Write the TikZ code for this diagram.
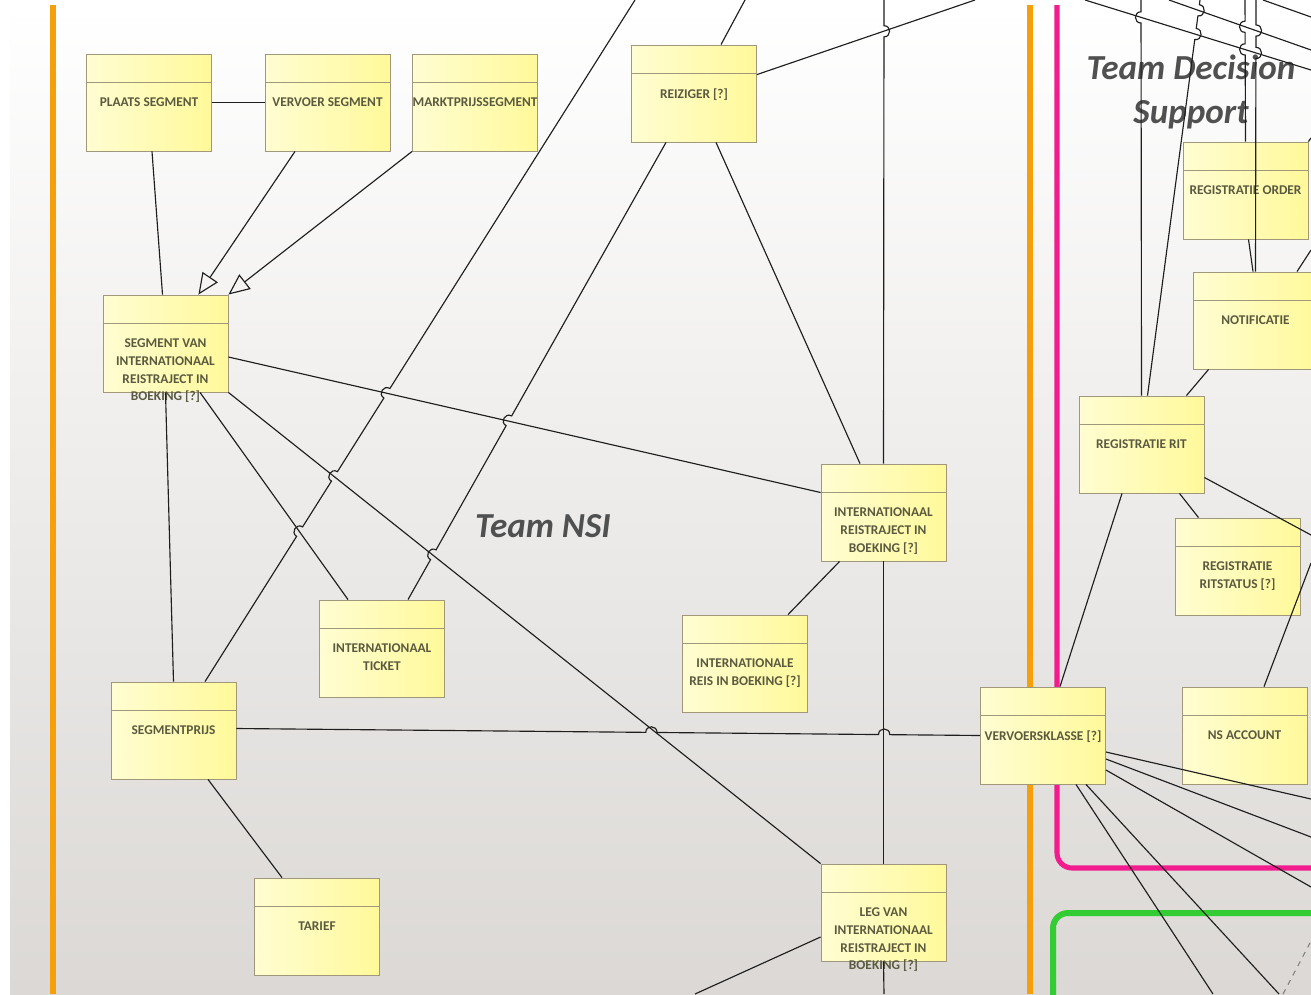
\documentclass[tikz,border=0pt]{standalone}
\usepackage{fontspec}
\setmainfont{Carlito}
\usetikzlibrary{arrows.meta,calc}
\definecolor{ink}{HTML}{1E1E1E}
\definecolor{boxedge}{HTML}{A1977A}
\definecolor{boxL}{HTML}{FFFDD2}
\definecolor{boxR}{HTML}{FFF99A}
\definecolor{boxtext}{HTML}{5A5A40}
\definecolor{bgbot}{HTML}{DBD8D5}
\definecolor{nsiorange}{HTML}{F5A00A}
\definecolor{dspink}{HTML}{F21C8E}
\definecolor{dsgreen}{HTML}{33CC33}
\definecolor{titlegrey}{HTML}{505050}

% line with small jumps where it crosses other lines
\newcommand\hopline[3]{%
  \draw[link] (#1)
    \foreach \t/\s in {#3}{
      -- ($(#1)!\t!(#2)!-3.2pt!(#2)$)
      to[bend left=\s,looseness=1.7] ($(#1)!\t!(#2)!3.2pt!(#2)$)}
    -- (#2);}

\tikzset{
  entity/.style={draw=boxedge,line width=0.5pt,left color=boxL,right color=boxR,
    minimum width=2.5cm,minimum height=1.94cm,inner sep=0pt,
    path picture={\draw[boxedge,line width=0.5pt]
      ([yshift=-0.56cm]path picture bounding box.north west) --
      ([yshift=-0.56cm]path picture bounding box.north east);},
    label={[etext]north:{#1}}},
  etext/.style={anchor=north,yshift=-0.87cm,inner sep=0pt,align=center,
    font=\bfseries\fontsize{7.6}{10.2}\selectfont,text=boxtext},
  title/.style={font=\bfseries\itshape\fontsize{20}{25.5}\selectfont,text=titlegrey,inner sep=0pt},
  link/.style={draw=ink,line width=0.65pt},
  gen/.style={link,-{Triangle[open,length=12pt,width=10.5pt]}}
}

\begin{document}
\begin{tikzpicture}[x=0.02cm,y=-0.02cm]
  \path[use as bounding box,fill=white] (0,0) rectangle (1311,994);
  \clip (0,0) rectangle (1311,994);
  \shade[top color=white,bottom color=bgbot] (10,5) rectangle (1311,994);

  % team areas
  \draw[nsiorange,line width=2.9pt] (53,5) -- (53,994) (1030,5) -- (1030,994);
  \draw[dspink,line width=2.9pt,rounded corners=0.3cm] (1057,5) |- (1320,868);
  \draw[dsgreen,line width=3.4pt,rounded corners=0.3cm] (1053,1000) |- (1320,913);
  \node[title] (nsi) at (543,526) {Team NSI};
  \node[title,align=center] (dss) at (1191,92) {Team Decision\\Support};

  % entities
  \node[entity={PLAATS SEGMENT}] (pla) at (149,102.5) {};
  \node[entity={VERVOER SEGMENT}] (ver) at (327.5,102.5) {};
  \node[entity={MARKTPRIJSSEGMENT}] (mkt) at (475,102.5) {};
  \node[entity={REIZIGER [?]}] (rei) at (694,93.5) {};
  \node[entity={SEGMENT VAN\\INTERNATIONAAL\\REISTRAJECT IN\\BOEKING [?]}] (sv) at (165.5,343.5) {};
  \node[entity={INTERNATIONAAL\\REISTRAJECT IN\\BOEKING [?]}] (irb) at (883.5,512.5) {};
  \node[entity={INTERNATIONAAL\\TICKET}] (tic) at (382,648.5) {};
  \node[entity={INTERNATIONALE\\REIS IN BOEKING [?]}] (reis) at (745,663.5) {};
  \node[entity={SEGMENTPRIJS}] (sp) at (173.5,730.5) {};
  \node[entity={TARIEF}] (tar) at (317,926.5) {};
  \node[entity={LEG VAN\\INTERNATIONAAL\\REISTRAJECT IN\\BOEKING [?]}] (leg) at (883.5,912.5) {};
  \node[entity={VERVOERSKLASSE [?]}] (vk) at (1043,735.5) {};
  \node[entity={REGISTRATIE ORDER}] (ord) at (1245.5,190.5) {};
  \node[entity={NOTIFICATIE}] (notif) at (1255.5,320.5) {};
  \node[entity={REGISTRATIE RIT}] (rit) at (1141.5,444.5) {};
  \node[entity={REGISTRATIE\\RITSTATUS [?]}] (rst) at (1237.5,566.5) {};
  \node[entity={NS ACCOUNT}] (nsa) at (1244.5,735.5) {};

  % free ends at the edge of the view
  \coordinate (e0) at (635,0);
  \coordinate (f0) at (745,0);
  \coordinate (g0) at (975,0);
  \coordinate (i0) at (884,0);
  \coordinate (i1) at (884,994);
  \coordinate (q0) at (695,994);
  \coordinate (t1) at (1141,0);
  \coordinate (t2) at (1200,0);
  \coordinate (y1) at (1256,0);
  \coordinate (y2) at (1245,0);
  \coordinate (o1) at (1311,138);
  \coordinate (z1) at (1311,250);
  \coordinate (v1) at (1311,535);
  \coordinate (aa1) at (1311,563);
  \foreach \n/\ey in {1/799,2/837,3/887} \coordinate (s\n) at (1311,\ey);
  \coordinate (s4) at (1213,994);
  \coordinate (s5) at (1279,994);
  \coordinate (d0) at (1283,994);
  \coordinate (d1) at (1311,941);
  \foreach \n/\xa/\yb in {1/1085/70,2/1169/50,3/1263/17}{
    \coordinate (tr\n a) at (\xa,0);
    \coordinate (tr\n b) at (1311,\yb);
  }

  % generalisations
  \draw[gen] ($(ver.south)+(-32.5,0)$) -- ($(sv.north east)+(-30,0)$);
  \draw[gen] (mkt.south west) -- (sv.north east);

  % associations
  \draw[link] (pla.east) -- (ver.west);
  \draw[link] ($(pla.south)+(3,0)$) -- ($(sv.north)+(-3,0)$);
  \draw[link] (sv.south) -- (sp.north);
  \draw[link] ($(sv.south)+(34.5,0)$) -- ($(tic.north)+(-34,0)$);
  \draw[link] (sv.south east) -- (leg.north west);
  \draw[link] ($(sv.east)+(0,13.5)$) -- ($(irb.west)+(0,-20)$);
  \draw[link] ($(rei.south)+(22,0)$) -- ($(irb.north)+(-23.5,0)$);
  \draw[link] ($(rei.north east)+(0,30)$) -- (g0);
  \draw[link] ($(rei.north)+(27,0)$) -- (f0);
  \draw[link] (irb.south) -- (leg.north);
  \draw[link] (leg.south) -- (i1);
  \draw[link] ($(irb.south west)+(19,0)$) -- ($(reis.north)+(43,0)$);
  \draw[link] ($(leg.west)+(0,24.5)$) -- (q0);
  \draw[link] ($(sp.south)+(34.5,0)$) -- ($(tar.north)+(-35,0)$);
  \draw[link] ($(vk.north)+(17,0)$) -- ($(rit.south)+(-19.5,0)$);
  \foreach \n/\dy in {1/16.5,2/23.5,3/34.5} \draw[link] ($(vk.east)+(0,\dy)$) -- (s\n);
  \draw[link] ($(vk.south)+(33,0)$) -- (s4);
  \draw[link] ($(vk.south)+(43,0)$) -- (s5);
  \draw[gray,dashed,line width=0.6pt] (d0) -- (d1);
  \draw[link] ($(rit.north east)+(-18,0)$) -- ($(notif.south west)+(16,0)$);
  \draw[link] ($(rit.east)+(0,33)$) -- (v1);
  \draw[link] ($(rit.south)+(38,0)$) -- ($(rst.north)+(-39,0)$);
  \draw[link] ($(ord.south)+(3,0)$) -- ($(notif.north)+(-2.5,0)$);
  \draw[link] ($(notif.north)+(41.5,0)$) -- (z1);
  \draw[link] (ord.north east) -- (o1);
  \draw[link] ($(nsa.north)+(19.5,0)$) -- (aa1);
  \foreach \n in {1,2,3} \draw[link] (tr\n a) -- (tr\n b);

  % lines with jumps
  \coordinate (e1) at ($(sp.north)+(31.5,0)$);
  \hopline{e0}{e1}{0.577/-90,0.699/-90,0.780/-90}
  \coordinate (f1) at ($(rei.south)+(-28,0)$);
  \coordinate (f2) at ($(tic.north)+(26,0)$);
  \hopline{f1}{f2}{0.609/-90,0.902/-90}
  \coordinate (n1) at ($(sp.east)+(0,-2)$);
  \hopline{n1}{vk.west}{0.558/90,0.871/90}
  \hopline{i0}{irb.north}{0.0675/90}
  \hopline{rit.north}{t1}{0.956/90}
  \coordinate (t2a) at ($(rit.north)+(6,0)$);
  \hopline{t2a}{t2}{0.914/-90,0.974/-90}
  \hopline{y2}{ord.north}{0.189/-90,0.349/-90}
  \hopline{y1}{notif.north}{0.1125/90,0.195/90}
\end{tikzpicture}
\end{document}
